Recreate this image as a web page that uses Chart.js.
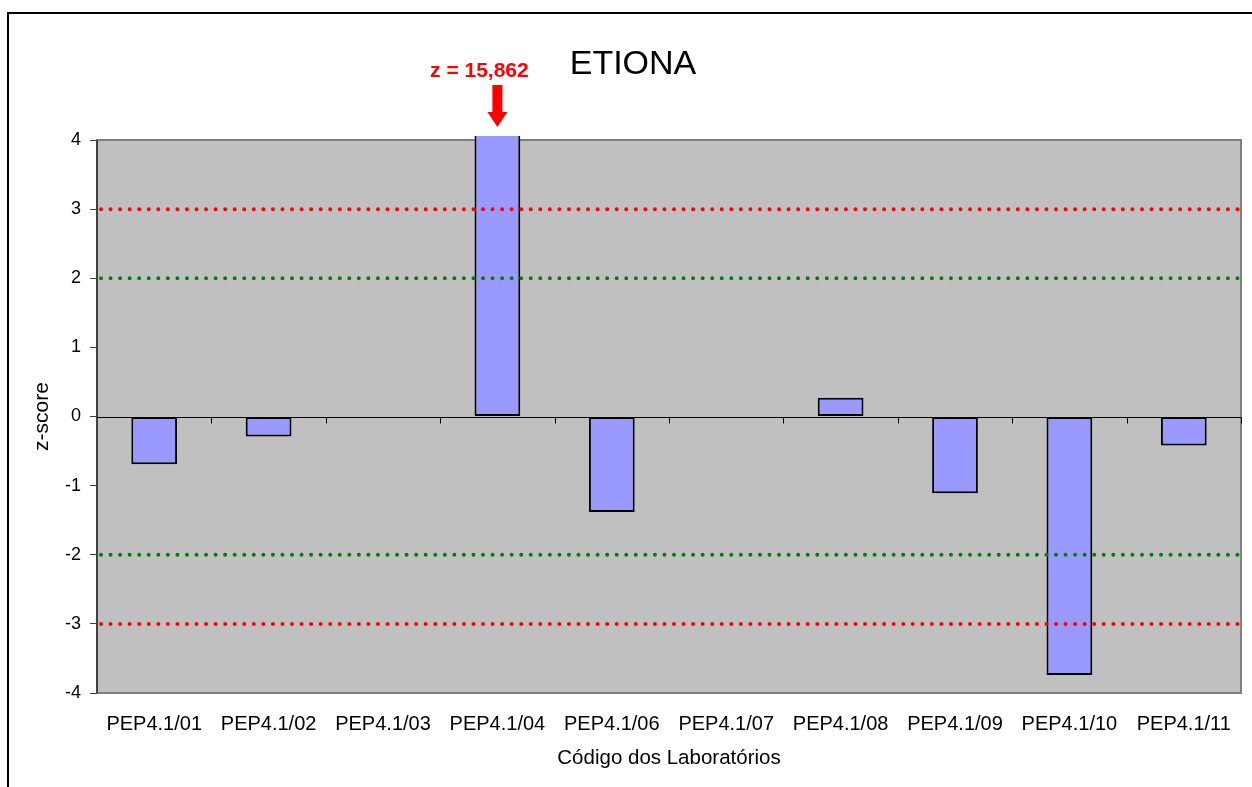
<!DOCTYPE html>
<html>
<head>
<meta charset="utf-8">
<script src="https://cdn.jsdelivr.net/npm/chart.js@4"></script>
<style>
  body { margin: 0; background: #fff; }
  canvas { display: block; }
</style>
</head>
<body>
<canvas id="zChart" width="1252" height="787"></canvas>
<script>
// data
const labs = ["PEP4.1/01", "PEP4.1/02", "PEP4.1/03", "PEP4.1/04", "PEP4.1/06",
  "PEP4.1/07", "PEP4.1/08", "PEP4.1/09", "PEP4.1/10", "PEP4.1/11"];
const zScores = [-0.69, -0.29, null, 15.862, -1.38, null, 0.27, -1.11, -3.74, -0.42];
const warnLimits = [2, -2];
const actionLimits = [3, -3];
const yTicks = [-4, -3, -2, -1, 0, 1, 2, 3, 4];
const outlierLabel = "z = 15,862";
const outlierIndex = 3;

const FONT = "'Liberation Sans', Arial, sans-serif";

// frame, plot background, limit lines, zero line, title and arrow
const excelLook = {
  id: "excelLook",
  beforeDraw(chart) {
    const { ctx, chartArea: a } = chart;
    ctx.save();
    ctx.fillStyle = "#fff";
    ctx.fillRect(0, 0, chart.width, chart.height);
    ctx.strokeStyle = "#000";
    ctx.lineWidth = 2;
    ctx.strokeRect(8, 13, chart.width + 20, chart.height + 20);
    ctx.fillStyle = "#C0C0C0";
    ctx.fillRect(a.left, a.top, a.right - a.left, a.bottom - a.top);
    ctx.strokeStyle = "#808080";
    ctx.lineWidth = 2;
    ctx.strokeRect(a.left, a.top, a.right - a.left, a.bottom - a.top);
    ctx.strokeStyle = "#404040";
    ctx.beginPath();
    ctx.moveTo(a.left, a.top);
    ctx.lineTo(a.left, a.bottom);
    ctx.stroke();
    ctx.restore();
  },
  afterDatasetsDraw(chart) {
    const { ctx, chartArea: a, scales } = chart;
    const y = scales.y, x = scales.x;
    const step = x.getPixelForValue(1) - x.getPixelForValue(0);
    ctx.save();
    // zero line + category ticks
    const y0 = Math.round(y.getPixelForValue(0)) + 0.5;
    ctx.strokeStyle = "#000";
    ctx.lineWidth = 1;
    ctx.beginPath();
    ctx.moveTo(a.left, y0);
    ctx.lineTo(a.right, y0);
    for (let i = 0; i < labs.length; i++) {
      const px = Math.round(x.getPixelForValue(i) + step / 2) + 0.5;
      ctx.moveTo(px, y0);
      ctx.lineTo(px, y0 + 6);
    }
    ctx.stroke();
    // dotted limit lines
    const dotted = (v, col) => {
      const py = y.getPixelForValue(v);
      ctx.strokeStyle = col;
      ctx.lineWidth = 4;
      ctx.lineCap = "round";
      ctx.setLineDash([0, 9.55]);
      ctx.beginPath();
      ctx.moveTo(a.left + 4, py);
      ctx.lineTo(a.right, py);
      ctx.stroke();
    };
    warnLimits.forEach((v) => dotted(v, "#008000"));
    actionLimits.forEach((v) => dotted(v, "#FF0000"));
    ctx.setLineDash([]);
    // outlier note
    const bx = x.getPixelForValue(outlierIndex);
    ctx.fillStyle = "#FF0000";
    ctx.font = "bold 21px " + FONT;
    ctx.textAlign = "center";
    ctx.textBaseline = "alphabetic";
    ctx.fillText(outlierLabel, bx - 18, 77);
    ctx.beginPath();
    ctx.rect(bx - 5, 85, 10, 28);
    ctx.moveTo(bx - 10, 112);
    ctx.lineTo(bx + 10, 112);
    ctx.lineTo(bx, 127);
    ctx.closePath();
    ctx.fill();
    // title
    ctx.fillStyle = "#000";
    ctx.font = "34px " + FONT;
    ctx.fillText("ETIONA", 633, 74);
    ctx.restore();
  },
};

new Chart(document.getElementById("zChart"), {
  type: "bar",
  data: {
    labels: labs,
    datasets: [{
      data: zScores,
      backgroundColor: "#9999FF",
      borderColor: "#000",
      borderWidth: 2,
      borderSkipped: false,
      categoryPercentage: 1,
      barPercentage: 0.4,
      clip: { left: false, right: false, top: 4, bottom: 4 },
    }],
  },
  options: {
    responsive: false,
    animation: false,
    devicePixelRatio: 1,
    layout: { padding: { top: 140, right: 11, bottom: 0, left: 0 } },
    plugins: { legend: { display: false }, tooltip: { enabled: false } },
    scales: {
      x: {
        offset: true,
        grid: { display: false },
        border: { display: false },
        ticks: { color: "#000", font: { family: FONT, size: 20 }, padding: 11, maxRotation: 0, autoSkip: false },
        title: { display: true, text: "Código dos Laboratórios", color: "#000",
          font: { family: FONT, size: 20.5 }, padding: { top: 0, bottom: 16 } },
        afterFit(s) { s.height = 94; },
      },
      y: {
        min: -4,
        max: 4,
        afterBuildTicks(s) { s.ticks = yTicks.map((v) => ({ value: v })); },
        grid: { drawOnChartArea: false, drawTicks: true, tickLength: 7, color: "#404040", lineWidth: 1 },
        border: { display: false },
        ticks: { color: "#000", font: { family: FONT, size: 18 }, padding: 9 },
        title: { display: true, text: "z-score", color: "#000",
          font: { family: FONT, size: 21 }, padding: { top: 30, bottom: 0 } },
        afterFit(s) { s.width = 97; },
      },
    },
  },
  plugins: [excelLook],
});
</script>
</body>
</html>
